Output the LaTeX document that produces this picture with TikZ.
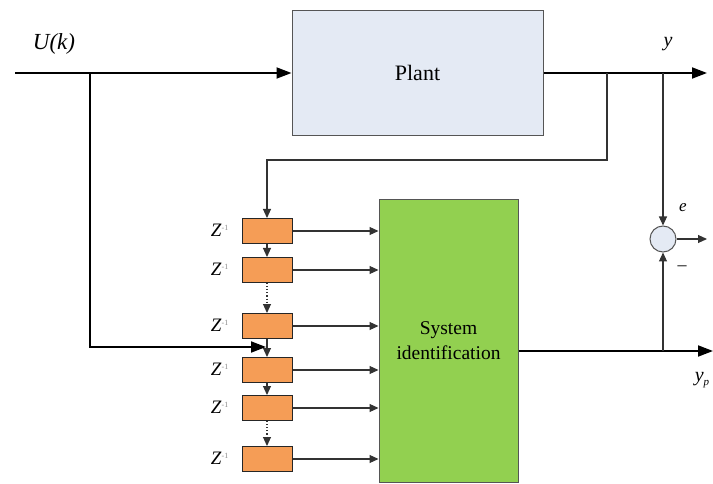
\documentclass[tikz,border=0pt]{standalone}
\usepackage{fontspec}
\setmainfont{Liberation Serif}
\usetikzlibrary{arrows.meta}
\definecolor{plantfill}{HTML}{E4EAF4}
\definecolor{idgreen}{HTML}{92D050}
\definecolor{delayor}{HTML}{F59D56}
\definecolor{edgegray}{HTML}{555555}
\tikzset{
  mainline/.style={line width=1.8pt,black},
  thinline/.style={line width=1.1pt,black!80},
  bigtip/.style={-{Triangle[length=15pt,width=11pt]}},
  smalltip/.style={-{Triangle[length=9pt,width=8pt]}},
  delaybox/.style={draw=black!85,line width=1pt,fill=delayor,minimum width=50pt,minimum height=25pt,inner sep=0pt},
  zlabel/.style={font=\fontsize{19}{21}\selectfont,anchor=east,inner sep=0pt},
  varlabel/.style={font=\fontsize{20}{22}\selectfont\itshape},
}
\begin{document}
\begin{tikzpicture}[x=1pt,y=-1pt]
\useasboundingbox (0,0) rectangle (713,484);
% blocks
\node[draw=edgegray,line width=1pt,fill=plantfill,minimum width=251pt,minimum height=125pt,inner sep=0pt,font=\fontsize{22}{24}\selectfont] (plant) at (417.5,73) {Plant};
\node[draw=edgegray,line width=1pt,fill=idgreen,minimum width=139pt,minimum height=282pt,inner sep=0pt,align=center,font=\fontsize{19.5}{25}\selectfont] (sysid) at (448.5,341) {System\\identification};
\node[delaybox] (d1) at (267,231) {};
\node[delaybox] (d2) at (267,270) {};
\node[delaybox] (d3) at (267,326) {};
\node[delaybox] (d4) at (267,370) {};
\node[delaybox] (d5) at (267,408) {};
\node[delaybox] (d6) at (267,459) {};
\foreach \i in {1,...,6}{
  \node[zlabel] (z\i) at ([xshift=-13pt,yshift=1pt]d\i.west) {\textit{Z}\raisebox{6pt}{\fontsize{8}{9}\selectfont\color{black!45}-1}};
}
\node[circle,draw=edgegray,line width=1pt,fill=plantfill,minimum size=26pt,inner sep=0pt] (sum) at (663,239) {};
% coordinates
\coordinate (uin) at (15,73);
\coordinate (usplit) at (90,73);
\coordinate (ucorner) at (90,347);
\coordinate (uend) at (266,347);
\coordinate (yend) at (707,73);
\coordinate (fbsplit) at (607,73);
\coordinate (fbc1) at (607,160);
\coordinate (fbc2) at (267,160);
\coordinate (esplit) at (663,73);
\coordinate (eend) at (707,239);
\coordinate (ypstart) at (518,351);
\coordinate (ypsplit) at (663,351);
\coordinate (ypend) at (713,351);
% main signal lines
\draw[mainline,bigtip] (uin) -- (plant.west |- uin);
\draw[mainline,bigtip] (usplit) -- (ucorner) -- (uend);
\draw[mainline,bigtip] (plant.east |- yend) -- (yend);
\draw[mainline,bigtip] (sysid.east |- ypstart) -- (ypend);
% feedback to delay chain
\draw[thinline,smalltip] (fbsplit) -- (fbc1) -- (fbc2) -- (d1.north);
\draw[thinline,smalltip] (d1.south) -- (d2.north);
\draw[thinline,smalltip,dotted] (d2.south) -- (d3.north);
\draw[thinline,smalltip] (d3.south) -- (d4.north);
\draw[thinline,smalltip] (d4.south) -- (d5.north);
\draw[thinline,smalltip,dotted] (d5.south) -- (d6.north);
\foreach \i in {1,...,6}{
  \draw[thinline,smalltip] (d\i.east) -- (sysid.west |- d\i.east);
}
% error computation
\draw[thinline,smalltip] (esplit) -- (sum.north);
\draw[thinline,smalltip] (ypsplit) -- (sum.south);
\draw[thinline,smalltip] (sum.east) -- (eend);
% labels
\node[varlabel,font=\fontsize{23}{25}\selectfont\itshape] (ulab) at (54,44) {U(k)};
\node[varlabel] (ylab) at (668,44) {y};
\node[varlabel,font=\fontsize{17}{19}\selectfont\itshape] (elab) at (683,208) {e};
\node[font=\fontsize{18}{20}\selectfont] (minus) at (682,268) {–};
\node[varlabel] (yplab) at (702,380) {y\raisebox{-4pt}{\fontsize{11}{12}\selectfont p}};
\end{tikzpicture}
\end{document}
